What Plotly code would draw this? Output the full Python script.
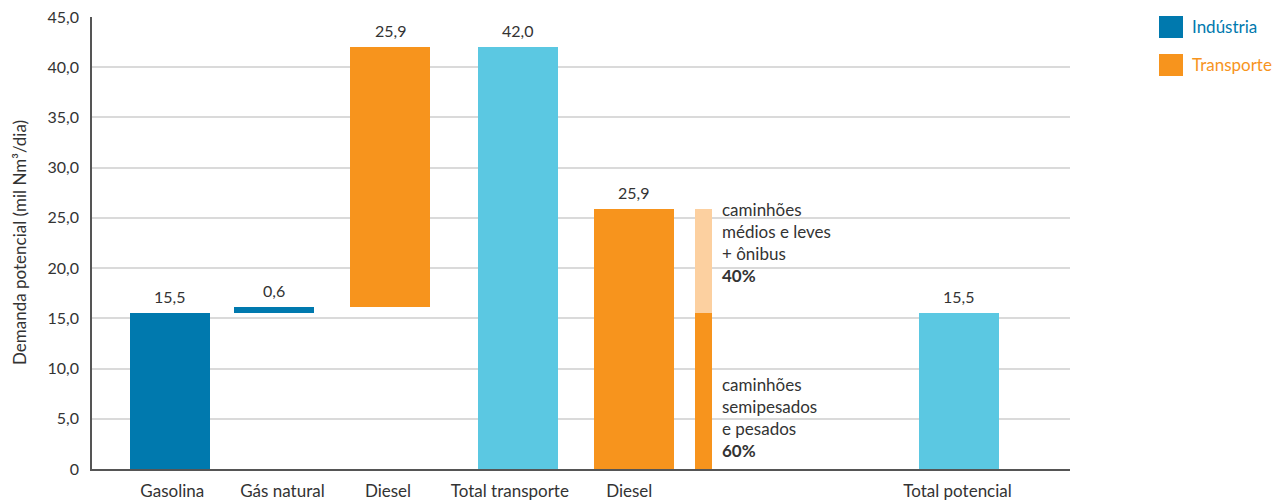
import plotly.graph_objects as go

# ---- data ----
categorias = ["Gasolina", "Gás natural", "Diesel", "Total transporte", "Diesel", "Total potencial"]
industria_vals = [15.5, 0.6]      # gasolina, gás natural
transporte_vals = [25.9]          # diesel (waterfall step)
total_transporte = 42.0
diesel_detalhe = 25.9
total_potencial = 15.5
parcela_pesados = 0.60            # caminhões semipesados e pesados
parcela_leves = 0.40              # caminhões médios e leves + ônibus
y_ticks = [0, 5, 10, 15, 20, 25, 30, 35, 40, 45]
y_ticklabels = ["0", "5,0", "10,0", "15,0", "20,0", "25,0", "30,0", "35,0", "40,0", "45,0"]

# ---- layout helpers (slot positions on the x axis) ----
pos = [0.0, 0.9, 1.9, 3.0, 4.0, 6.8]
pos_rotulo = [0.02, 0.97, 1.88, 2.93, 3.96, 6.79]
pos_split = 4.6
largura = 0.69
largura_split = 0.14

W, H = 1275, 500
ML, MR, MT, MB = 92, 205, 17, 31
PW, PH = W - ML - MR, H - MT - MB

AZUL = "#0079AE"
LARANJA = "#F7941D"
CIANO = "#5BC8E2"
LARANJA_CLARO = "#FCD0A0"
TEXTO = "#333333"
FONTE = "Lato, 'Source Sans Pro', sans-serif"

# waterfall bases
base_gas = industria_vals[0]
base_diesel = industria_vals[0] + industria_vals[1]

fig = go.Figure()

fig.add_trace(go.Bar(
    x=[pos[0], pos[1]], y=industria_vals, base=[0, base_gas],
    width=largura, marker_color=AZUL, marker_line_width=0, showlegend=False))
fig.add_trace(go.Bar(
    x=[pos[2], pos[4]], y=[transporte_vals[0], diesel_detalhe], base=[base_diesel, 0],
    width=largura, marker_color=LARANJA, marker_line_width=0, showlegend=False))
fig.add_trace(go.Bar(
    x=[pos[3], pos[5]], y=[total_transporte, total_potencial], base=[0, 0],
    width=largura, marker_color=CIANO, marker_line_width=0, showlegend=False))

# diesel split by vehicle type
pesados = diesel_detalhe * parcela_pesados
leves = diesel_detalhe * parcela_leves
fig.add_trace(go.Bar(
    x=[pos_split], y=[pesados], base=[0], width=largura_split,
    marker_color=LARANJA, marker_line_width=0, showlegend=False))
fig.add_trace(go.Bar(
    x=[pos_split], y=[leves], base=[pesados], width=largura_split,
    marker_color=LARANJA_CLARO, marker_line_width=0, showlegend=False))


def fmt(v):
    return f"{v:.1f}".replace(".", ",")


# value labels above the bars
rotulos = [
    (pos[0], industria_vals[0], industria_vals[0]),
    (pos[1], base_gas + industria_vals[1], industria_vals[1]),
    (pos[2], base_diesel + transporte_vals[0], transporte_vals[0]),
    (pos[3], total_transporte, total_transporte),
    (pos[4], diesel_detalhe, diesel_detalhe),
    (pos[5], total_potencial, total_potencial),
]
anns = []
for x, topo, v in rotulos:
    anns.append(dict(x=x, y=topo, xref="x", yref="y", text=fmt(v), showarrow=False,
                     yanchor="bottom", yshift=5, font=dict(size=16, color=TEXTO, family=FONTE)))

anns.append(dict(x=pos_split + 0.14, y=pesados + leves, xref="x", yref="y",
                 text=f"caminhões<br>médios e leves<br>+ ônibus<br><b>{int(parcela_leves * 100)}%</b>",
                 showarrow=False, xanchor="left", yanchor="top", align="left", yshift=12,
                 font=dict(size=17, color=TEXTO, family=FONTE)))
anns.append(dict(x=pos_split + 0.14, y=0, xref="x", yref="y",
                 text=f"caminhões<br>semipesados<br>e pesados<br><b>{int(parcela_pesados * 100)}%</b>",
                 showarrow=False, xanchor="left", yanchor="bottom", align="left", yshift=6,
                 font=dict(size=17, color=TEXTO, family=FONTE)))

# y axis title
anns.append(dict(x=-(ML - 19) / PW, y=0.5, xref="paper", yref="paper", showarrow=False,
                 xanchor="center", yanchor="middle",
                 text="Demanda potencial (mil Nm³/dia)", textangle=-90,
                 font=dict(size=17, color=TEXTO, family=FONTE)))

# legend
legenda = [("Indústria", AZUL), ("Transporte", LARANJA)]
shapes = []
for i, (nome, cor) in enumerate(legenda):
    topo_px = 16 + 38 * i - MT
    base_px = 38 + 38 * i - MT
    y_top = 1 - topo_px / PH
    y_bot = 1 - base_px / PH
    shapes.append(dict(type="rect", xref="paper", yref="paper",
                       x0=(1159 - ML) / PW, x1=(1183 - ML) / PW, y0=y_bot, y1=y_top,
                       fillcolor=cor, line_width=0))
    anns.append(dict(x=(1190 - ML) / PW, y=(y_top + y_bot) / 2, xref="paper", yref="paper",
                     text=nome, showarrow=False, xanchor="left", yanchor="middle",
                     font=dict(size=17, color=cor, family=FONTE)))

fig.update_layout(
    width=W, height=H,
    margin=dict(l=ML, r=MR, t=MT, b=MB),
    paper_bgcolor="white", plot_bgcolor="white",
    bargap=0, barmode="overlay",
    font=dict(family=FONTE, size=16, color=TEXTO),
    annotations=anns, shapes=shapes,
    xaxis=dict(range=[-0.672, 7.76], tickvals=pos_rotulo, ticktext=categorias, automargin=False,
               showgrid=False, zeroline=False, showline=True, linecolor="#555555",
               linewidth=1.5, ticks="", ticklabelstandoff=6,
               tickfont=dict(size=17, color=TEXTO)),
    yaxis=dict(range=[0, 45], tickvals=y_ticks, ticktext=y_ticklabels, automargin=False,
               showgrid=True, gridcolor="#dadada", gridwidth=1.5, zeroline=False,
               showline=True, linecolor="#555555", linewidth=1.5, ticks="",
               ticklabelstandoff=8, tickfont=dict(size=16, color=TEXTO)),
)

fig.write_html("out.html")
